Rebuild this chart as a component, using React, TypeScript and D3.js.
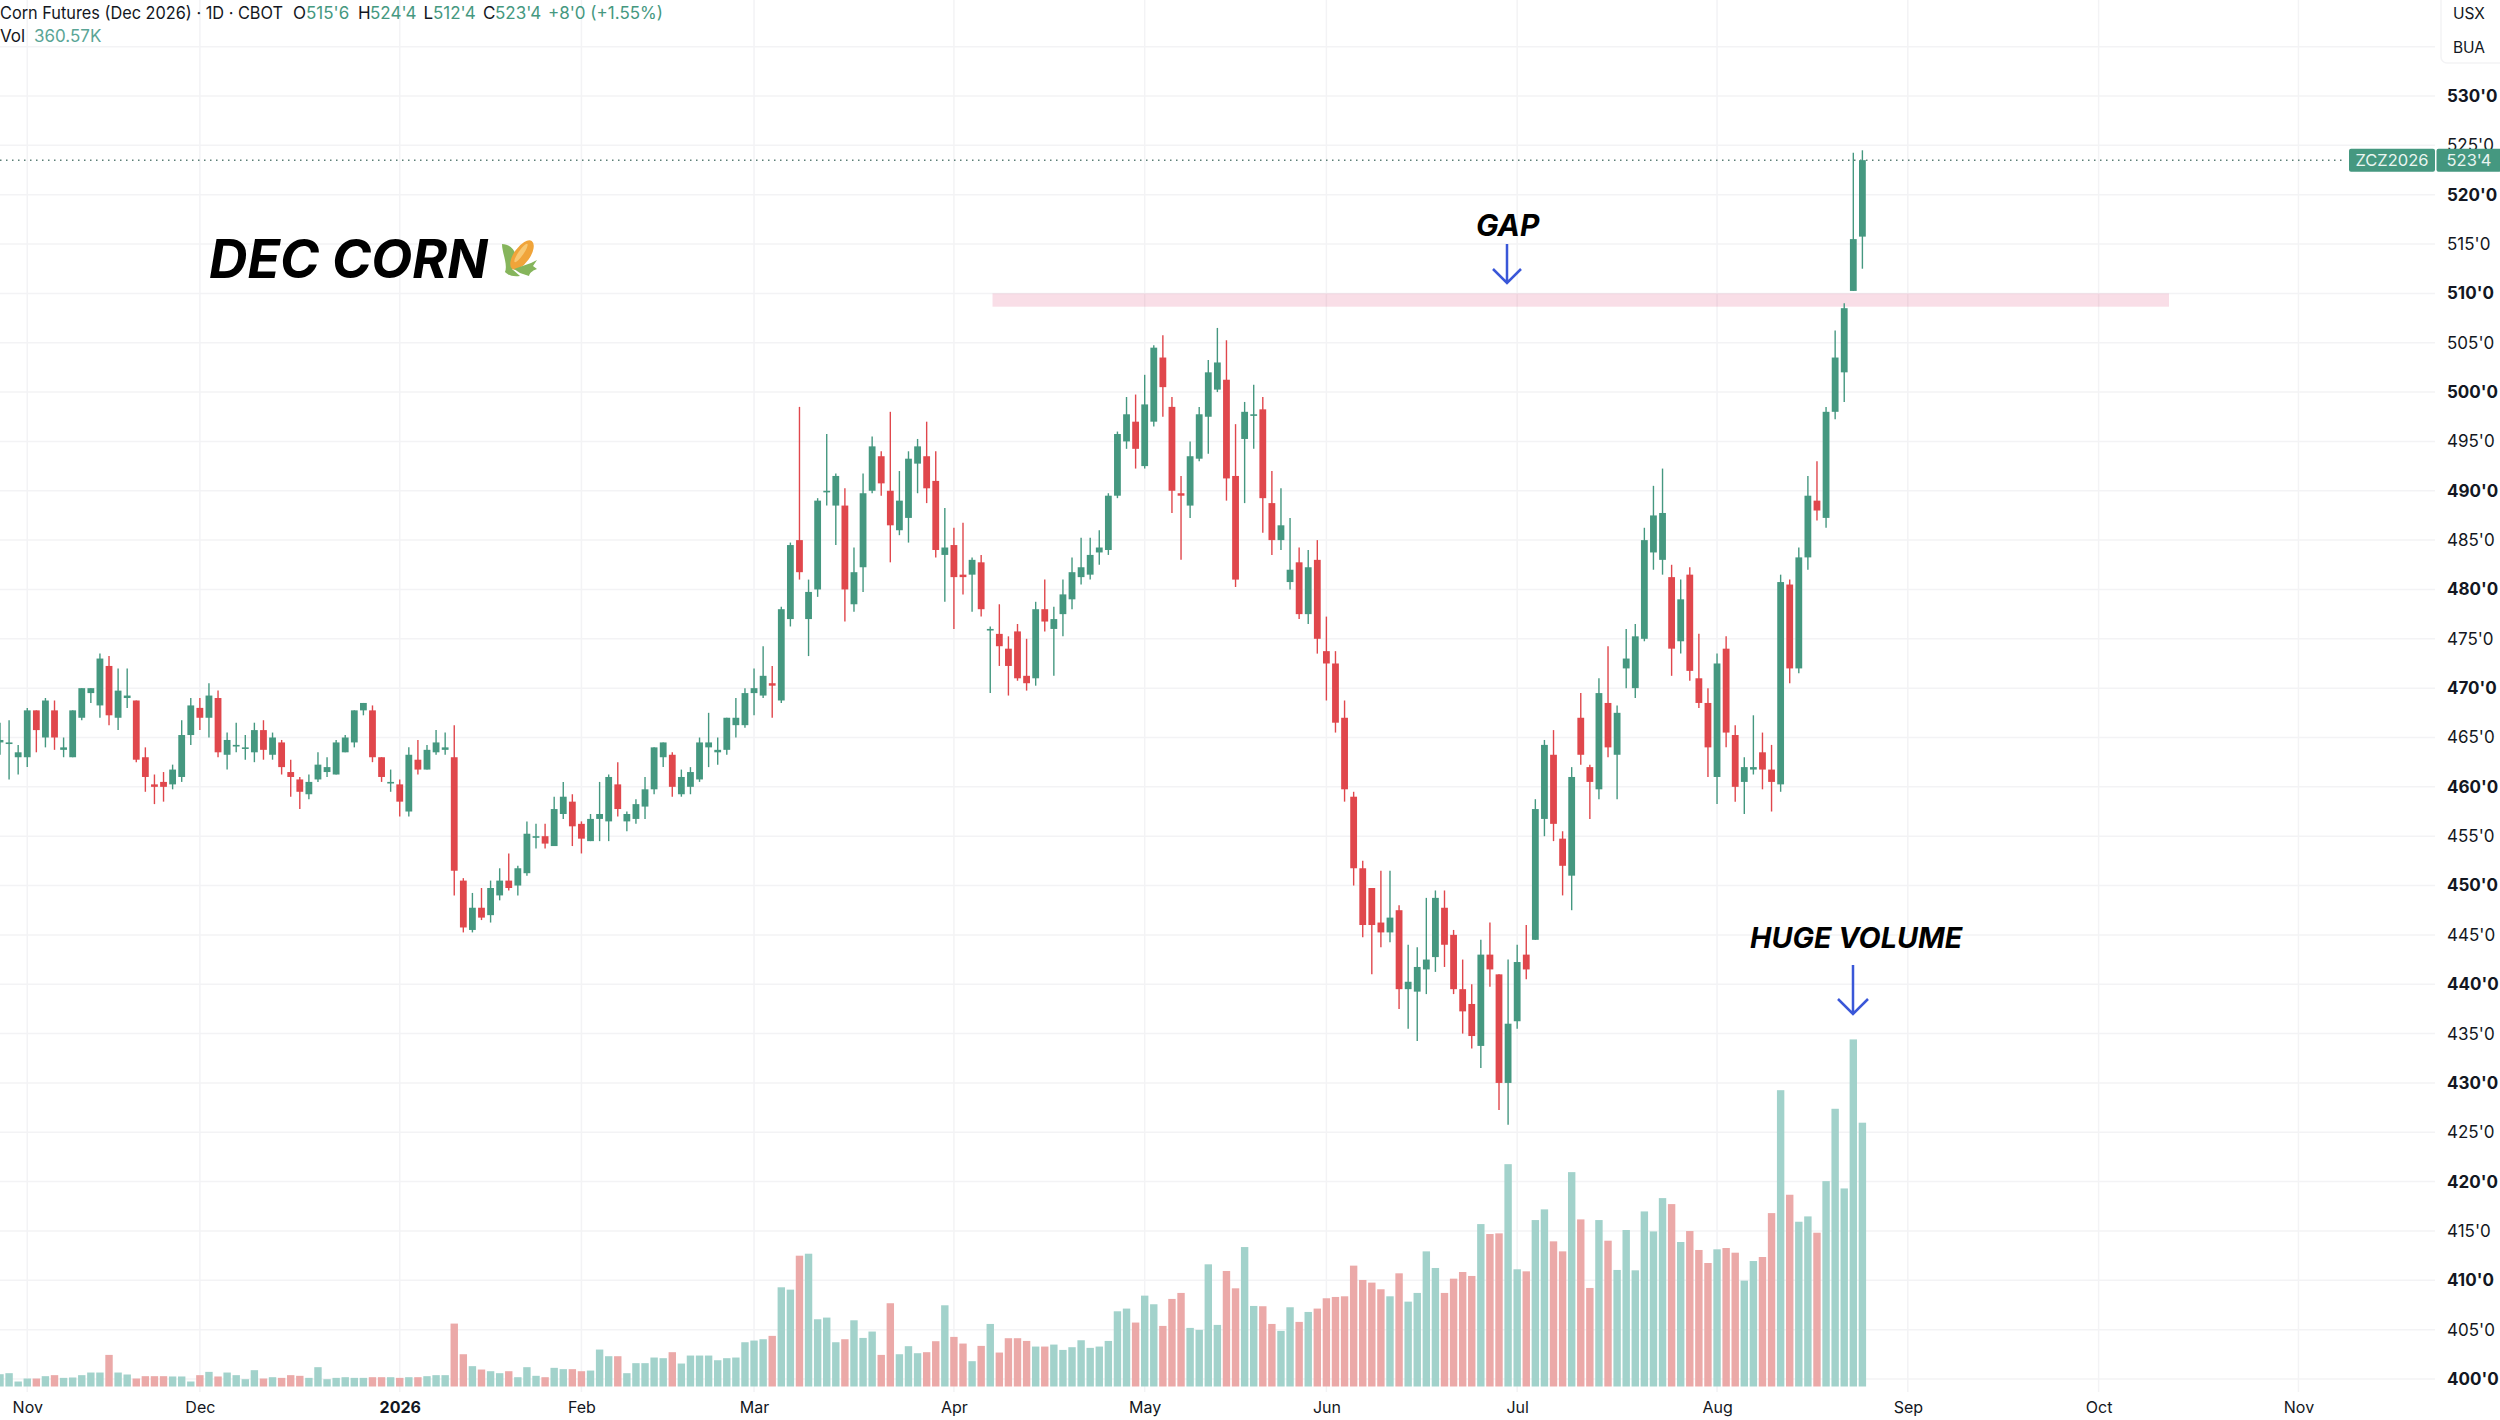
import { useEffect, useRef } from 'react'
import * as d3 from 'd3'

const opens = [
  464.5, 464.5, 463, 463, 467.75, 465, 467.75, 463.75, 463, 467,
  469.5, 468.25, 472.25, 467, 469, 468.75, 463, 460.25, 460.5, 460.25,
  461, 465.25, 468, 467, 469, 463.25, 464.25, 464, 463.5, 465.75,
  463.25, 464.5, 461.5, 460.75, 459.25, 460.75, 461.5, 461.25, 463.5, 464.5,
  467.75, 467.75, 463, 460.5, 460.25, 457.5, 462.75, 461.75, 463.5, 463.75,
  463, 450.5, 445.5, 447.75, 447, 449, 450.5, 450, 451.25, 455,
  455, 454, 457.25, 458.5, 456.25, 454.5, 456.75, 456.5, 460.25, 456.5,
  456.75, 458, 459.75, 463, 463.25, 459.25, 460, 460.75, 464, 463.5,
  463.75, 466.25, 466.25, 469.5, 469.25, 470.5, 468.75, 477, 485, 477,
  480, 490, 488.5, 488.5, 478.5, 482.25, 490, 493.5, 490, 486,
  487.25, 492.75, 493.5, 491, 483.5, 484.5, 481.5, 481.5, 482.75, 476,
  475.5, 474, 475.75, 471.25, 471, 478, 476, 477.5, 479, 481.25,
  481.5, 483.75, 484, 489.5, 495, 497, 492.5, 497, 503.5, 498.5,
  489.75, 488.5, 493.25, 497.5, 500.25, 501.25, 491.5, 495.25, 497.75, 498.25,
  488.75, 485, 480.75, 482.75, 477.5, 483, 473.75, 472.5, 467, 459,
  451.75, 449.75, 446.25, 445.25, 447.5, 439.5, 439.25, 441.5, 442.75, 447.75,
  445, 439.5, 438, 433.75, 443, 441, 430, 436.25, 443, 444.5,
  456.75, 463.25, 454.75, 451, 467, 462, 459.75, 468.5, 463.25, 472,
  470, 475, 483.75, 483, 481.25, 474.75, 481.5, 471, 468.5, 461,
  474, 465.25, 460.5, 461.75, 463.5, 461.75, 460.25, 480.5, 472, 483.25,
  489, 487.25, 498, 502, 510.25, 515.75,
]
const highs = [
  466.5, 466.75, 464.25, 468, 467.75, 469, 468.75, 465, 467.75, 470,
  470, 473.5, 473.25, 472, 472, 468.75, 464, 461.25, 461.5, 462.25,
  466.75, 469, 469, 470.5, 469.75, 465.5, 466.5, 465.25, 466.5, 466.75,
  465.5, 464.75, 462.75, 461, 461.25, 463.5, 463, 464.75, 465.25, 467.75,
  468.5, 468.25, 463, 461.75, 460.75, 464, 464.75, 464.25, 465.75, 465.5,
  466.25, 450.75, 449.25, 449.75, 450.5, 451.75, 453.25, 452, 456.5, 456.25,
  456.25, 459, 460.5, 459.25, 456.5, 457.25, 460.5, 461.25, 462.5, 457.5,
  458.75, 461, 464, 464.5, 463.5, 461.75, 462, 465, 467.5, 465,
  467, 469, 470, 472, 474.25, 472.25, 478.25, 484.75, 498.5, 481,
  489.25, 495.75, 491.75, 490.25, 484.25, 491.75, 495.5, 494, 498, 492,
  494, 495.25, 497, 494, 488.25, 486.25, 486.75, 483.25, 483.5, 476.25,
  478.5, 475.25, 476.5, 475, 478.75, 481, 478.25, 481, 483.25, 485.25,
  485.25, 486, 489.75, 496, 499.5, 499.75, 501.75, 504.75, 505.75, 499.5,
  491.5, 495, 498.5, 503.25, 506.5, 505.25, 496.75, 499, 500.75, 499.5,
  492, 490.25, 487.25, 484.25, 484, 485, 477.25, 473.75, 468.75, 459.5,
  452.5, 449.75, 451.5, 451.5, 448, 444, 443.75, 448.75, 449.5, 449.5,
  445.5, 442.5, 440, 444.5, 446.25, 441, 442.5, 444, 446, 458.75,
  464.75, 465.75, 455.5, 462, 469.5, 462.25, 471, 474.25, 468.25, 476,
  476.5, 486.25, 490.5, 492.25, 482.5, 481, 482.25, 475.5, 470, 473.5,
  475.25, 466.25, 463, 467.25, 465.5, 464.25, 481.5, 481, 484.25, 491.5,
  493, 498.5, 506.25, 509, 524.25, 524.5,
]
const lows = [
  463.25, 460.75, 461.25, 462, 463.5, 464, 463.75, 463, 463, 466.75,
  468.5, 467, 466.25, 465.75, 468, 462.5, 459.5, 458.25, 458.5, 459.75,
  460.5, 464.25, 465.75, 465, 463, 461.75, 463.5, 462.75, 462.5, 462.75,
  462.75, 461.25, 459, 457.75, 458.75, 460.5, 461, 461.25, 463.5, 464,
  467.25, 462.5, 460.5, 459.5, 457, 457, 461.25, 461.75, 463.25, 463.25,
  449, 445.25, 445.25, 446.5, 446.25, 448.5, 449.5, 449, 451, 453.75,
  453.75, 454, 456.75, 454, 453.25, 454.5, 454.5, 454.5, 457, 455.5,
  456.25, 456.75, 459.25, 462, 459, 459, 459.25, 460.5, 462, 462.25,
  463.25, 465, 466, 467.25, 469, 467, 468.5, 476.25, 481, 473.25,
  479.25, 488.5, 484.5, 476.75, 477.75, 479.75, 489.75, 489.5, 482.75, 485.5,
  484.75, 489.75, 488.75, 483.25, 478.75, 476, 479.5, 477.75, 477.25, 469.5,
  472.25, 469.25, 470.75, 469.75, 470.25, 475.75, 471.25, 475.25, 478, 480.5,
  481, 482.5, 483.5, 489.25, 494.25, 492.25, 492.25, 496.5, 497.5, 487.75,
  483, 487.25, 493, 493.75, 500, 489, 480.25, 488.75, 494.25, 485.75,
  483.5, 484, 480, 477, 476.5, 473.5, 468.75, 465.5, 458.5, 450,
  444.75, 441, 443.75, 444.25, 437.5, 435.5, 434.25, 439, 441.25, 441.75,
  439, 435, 433.5, 431.5, 439.75, 427.25, 425.75, 435.5, 440.5, 444.5,
  455, 454.5, 449, 447.5, 462.25, 456.75, 458.75, 463, 458.75, 470,
  469, 474.75, 482, 481.5, 471.25, 473.5, 470.75, 468, 461, 458.25,
  464, 458.5, 457.25, 461.25, 459.75, 457.5, 459.5, 470.5, 471.5, 482,
  487, 486.25, 497.25, 499, 510.25, 512.5,
]
const closes = [
  464.75, 464.5, 463.5, 467.75, 465.75, 468.75, 465, 464, 467.75, 470,
  470, 473, 467.25, 469.75, 469.25, 462.75, 461, 460, 460, 461.75,
  465.25, 468.25, 467, 469.25, 463.5, 464.75, 464.25, 464, 465.75, 463.75,
  465, 462, 461, 459.5, 460.5, 462.25, 462, 464.5, 465, 467.75,
  468.5, 463, 461, 460.5, 458.5, 463.25, 461.75, 463.75, 464.5, 464,
  451.5, 445.75, 447.75, 446.75, 449.75, 450.5, 449.75, 451.75, 455.25, 455,
  454.25, 457.75, 459, 456, 454.75, 456.75, 457.25, 461, 457.75, 457.25,
  458.25, 459.75, 464, 464.5, 460, 461, 461.5, 464.5, 464.5, 463.75,
  467, 467, 469.5, 470, 471.25, 470.25, 478, 484.5, 481.75, 479.75,
  489, 490, 491.5, 480, 481.75, 489.75, 494.5, 490.75, 486.5, 489,
  493.25, 494.5, 490.25, 484, 484.25, 481.25, 481.25, 483, 478, 476,
  474.25, 472.25, 471, 470.5, 478, 476.75, 477, 479.5, 481.75, 482.25,
  483.5, 484.25, 489.5, 495.75, 497.75, 494.25, 498.75, 504.5, 500.5, 490,
  489.5, 493.5, 497.75, 502, 503, 491.25, 481, 498, 497.75, 489.25,
  485, 486.5, 482, 477.5, 482.25, 475, 472.5, 466.5, 459.75, 451.75,
  446, 446, 445.25, 446.75, 439.5, 440.25, 441.75, 442.5, 448.75, 444,
  439.5, 437.25, 434.75, 443, 441.5, 430, 436, 442.25, 441.5, 457.75,
  464.25, 456.25, 452, 461, 463.25, 460.5, 469.5, 464, 467.5, 473,
  475.25, 485, 487.5, 487.75, 474, 479, 471.75, 468.5, 464, 472.5,
  465.5, 460, 462, 462, 461.75, 460.5, 480.75, 472, 483.25, 489.5,
  488, 498, 503.5, 508.5, 515.5, 523.5,
]
const volumes = [
  16.8, 18.2, 6.8, 10.9, 10.9, 14.1, 15.5, 11.8, 12.3, 15.5,
  19.1, 19.1, 43.2, 19.1, 16.4, 10.9, 14.1, 14.1, 14.1, 13.7,
  13.7, 6.8, 15.5, 20, 13.7, 19.1, 15.5, 10, 22.3, 10.9,
  12.7, 11.8, 15.5, 14.6, 11.8, 26.4, 10, 11.8, 12.7, 11.8,
  11.8, 12.7, 12.7, 12.7, 11.8, 12.7, 12.7, 14.1, 15.5, 15.5,
  86, 44.1, 27.8, 23.2, 20.9, 18.2, 20.9, 12.7, 26.4, 14.6,
  12.7, 25.5, 23.7, 23.7, 20.9, 21.8, 50.5, 41.4, 41.4, 18.2,
  31.9, 31.9, 39.6, 38.7, 46.9, 31.4, 42.3, 42.3, 42.3, 35.9,
  38.7, 39.6, 60.5, 62.8, 64.6, 69.2, 135.6, 132.4, 178.8, 181.5,
  91.9, 94.2, 60.5, 64.6, 90.5, 66.4, 75.1, 43.2, 113.8, 44.1,
  55.1, 45.5, 46.9, 61.9, 111, 67.8, 58.7, 34.6, 55.5, 85.5,
  46.4, 66, 66, 62.3, 54.6, 54.6, 57.3, 50, 53.7, 63.2,
  52.8, 54.6, 62.3, 102.8, 106.5, 87.4, 124.2, 112.4, 82.8, 119.7,
  127.9, 80.1, 77.4, 167, 84.2, 157.9, 134.2, 190.6, 110.1, 109.7,
  85.5, 76, 108.3, 88.3, 101.9, 106.5, 120.6, 122.4, 123.3, 165.2,
  145.6, 142, 132.9, 123.3, 154.7, 116, 127.9, 184.7, 162, 127.9,
  147.4, 156.5, 151.1, 222, 208.4, 209.3, 303.9, 160.2, 157.4, 227.5,
  242.1, 198.4, 184.7, 293, 228.4, 134.7, 227.5, 199.3, 159.3, 213.9,
  158.8, 239.3, 212, 257.5, 249.3, 197.5, 212.5, 186.6, 168.8, 187.5,
  189.3, 182.9, 144.7, 171.5, 177, 237, 405, 262.1, 225.2, 232.5,
  210.2, 280.7, 379.6, 270.7, 474.4, 360.57,
]

const monthLabels = ['Nov', 'Dec', '2026', 'Feb', 'Mar', 'Apr', 'May', 'Jun', 'Jul', 'Aug', 'Sep', 'Oct', 'Nov']
const monthBars = [3, 22, 44, 64, 83, 105, 126, 146, 167, 189, 210, 231, 253]
const lastPrice = 523.5
const gapBand = { top: 510, bottom: 508.65, fromBar: 109.25, toBar: 238.75 }

const UP = '#459880'
const DOWN = '#e0474c'
const UP_VOL = '#a2d2cb'
const DOWN_VOL = '#eba9a8'
const GRID = '#f3f3f5'
const INK = '#131722'
const ARROW = '#3a57d8'
const FONT = 'Inter, "Noto Sans", sans-serif'

const W = 2500
const H = 1420
const PLOT_R = 2435

export default function App() {
  const ref = useRef<SVGSVGElement | null>(null)
  useEffect(() => {
    const svg = d3.select(ref.current)
    svg.selectAll('*').remove()

    const x = d3.scaleLinear().domain([0, 205]).range([0, 1862.4])
    const y = d3.scaleLinear().domain([400, 530]).range([1379, 96])
    const v = d3.scaleLinear().domain([0, 360.57]).range([1386.5, 1122.7])
    const priceTicks = d3.range(400, 535, 5)
    const gridPrices = d3.range(400, 540, 5)

    svg.append('rect').attr('width', W).attr('height', H).attr('fill', '#fff')

    const grid = svg.append('g')
    grid.selectAll(null).data(gridPrices).enter().append('line')
      .attr('x1', 0).attr('x2', PLOT_R)
      .attr('y1', (d: number) => y(d)).attr('y2', (d: number) => y(d))
      .attr('stroke', GRID).attr('stroke-width', 1.5)
    grid.selectAll(null).data(monthBars).enter().append('line')
      .attr('x1', (d: number) => x(d)).attr('x2', (d: number) => x(d))
      .attr('y1', 0).attr('y2', 1392)
      .attr('stroke', GRID).attr('stroke-width', 1.5)

    // pink gap band
    svg.append('rect')
      .attr('x', x(gapBand.fromBar)).attr('width', x(gapBand.toBar) - x(gapBand.fromBar))
      .attr('y', y(gapBand.top)).attr('height', y(gapBand.bottom) - y(gapBand.top))
      .attr('fill', 'rgba(220,60,110,0.17)')

    // last price dotted line
    svg.append('line')
      .attr('x1', 0).attr('x2', 2346).attr('y1', y(lastPrice)).attr('y2', y(lastPrice))
      .attr('stroke', '#5b7f76').attr('stroke-width', 1.5).attr('stroke-dasharray', '1.5 4.5')

    const bars = d3.range(opens.length)

    // volume
    svg.append('g').selectAll('rect').data(bars).enter().append('rect')
      .attr('x', (i: number) => x(i) - 3.7).attr('width', 7.4)
      .attr('y', (i: number) => v(volumes[i]))
      .attr('height', (i: number) => v(0) - v(volumes[i]))
      .attr('fill', (i: number) => (closes[i] >= opens[i] ? UP_VOL : DOWN_VOL))

    // candles
    const candles = svg.append('g')
    candles.selectAll('line').data(bars).enter().append('line')
      .attr('x1', (i: number) => x(i)).attr('x2', (i: number) => x(i))
      .attr('y1', (i: number) => y(highs[i])).attr('y2', (i: number) => y(lows[i]))
      .attr('stroke', (i: number) => (closes[i] >= opens[i] ? UP : DOWN))
      .attr('stroke-width', 1.4)
    candles.selectAll('rect').data(bars).enter().append('rect')
      .attr('x', (i: number) => x(i) - 3.4).attr('width', 6.8)
      .attr('y', (i: number) => y(Math.max(opens[i], closes[i])))
      .attr('height', (i: number) => Math.max(1.6, Math.abs(y(opens[i]) - y(closes[i]))))
      .attr('fill', (i: number) => (closes[i] >= opens[i] ? UP : DOWN))

    // price axis
    const yAxis = d3.axisRight(y).tickValues(priceTicks).tickSize(0).tickPadding(0)
      .tickFormat((d: any) => `${d}'0`)
    const yG = svg.append('g').attr('transform', 'translate(2447,0)').call(yAxis as any)
    yG.select('.domain').remove()
    yG.selectAll('.tick text')
      .attr('font-family', FONT).attr('font-size', 17).attr('fill', INK)
      .attr('font-weight', (d: any) => (d % 10 === 0 ? 700 : 400))

    // time axis
    const xAxis = d3.axisBottom(x).tickValues(monthBars).tickSize(0).tickPadding(0)
      .tickFormat((_d: any, i: number) => monthLabels[i])
    const xG = svg.append('g').attr('transform', 'translate(0,1402)').call(xAxis as any)
    xG.select('.domain').remove()
    xG.selectAll('.tick text')
      .attr('font-family', FONT).attr('font-size', 16).attr('fill', INK)
      .attr('font-weight', (_d: any, i: number) => (monthLabels[i] === '2026' ? 700 : 400))

    // currency/unit box
    svg.append('rect').attr('x', 2441).attr('y', -6).attr('width', 64).attr('height', 69).attr('rx', 6)
      .attr('fill', '#fff').attr('stroke', '#f3f3f5').attr('stroke-width', 1.5)
    for (const [label, ty] of [['USX', 19], ['BUA', 53]] as [string, number][]) {
      svg.append('text').attr('x', 2469).attr('y', ty).attr('text-anchor', 'middle')
        .attr('font-family', FONT).attr('font-size', 15.5).attr('fill', INK).text(label)
    }

    // last price tag, drawn over the 525'0 label like the original
    const tagY = y(lastPrice) - 11.5
    svg.append('rect').attr('x', 2349).attr('y', tagY).attr('width', 86).attr('height', 23).attr('rx', 2).attr('fill', UP)
    svg.append('rect').attr('x', 2436.5).attr('y', tagY).attr('width', 65).attr('height', 23).attr('rx', 2).attr('fill', UP)
    svg.append('text').attr('x', 2392).attr('y', y(lastPrice) + 6).attr('text-anchor', 'middle')
      .attr('font-family', FONT).attr('font-size', 16.5).attr('fill', '#e9f5f1').text('ZCZ2026')
    svg.append('text').attr('x', 2469).attr('y', y(lastPrice) + 6).attr('text-anchor', 'middle')
      .attr('font-family', FONT).attr('font-size', 16.5).attr('fill', '#e9f5f1').text("523'4")

    // header
    const header = svg.append('g').attr('font-family', FONT).attr('font-size', 17)
    header.append('text').attr('x', 0).attr('y', 19).attr('fill', INK)
      .attr('textLength', 283).attr('lengthAdjust', 'spacingAndGlyphs')
      .text('Corn Futures (Dec 2026) · 1D · CBOT')
    const legend: [string, number, string][] = [
      ['O', 293, INK], ["515'6", 306, UP], ['H', 358, INK], ["524'4", 370, UP],
      ['L', 423.5, INK], ["512'4", 433, UP], ['C', 483, INK], ["523'4", 495, UP],
      ["+8'0 (+1.55%)", 548, UP],
    ]
    for (const [t, tx, c] of legend) header.append('text').attr('x', tx).attr('y', 19).attr('fill', c).text(t)
    header.append('text').attr('x', 0).attr('y', 42).attr('fill', INK).text('Vol')
    header.append('text').attr('x', 34).attr('y', 42).attr('fill', '#5aa596').text('360.57K')

    // annotations
    const note = (t: string, tx: number, ty: number, size: number) =>
      svg.append('text').attr('x', tx).attr('y', ty).attr('font-family', FONT).attr('font-size', size)
        .attr('font-weight', 700).attr('font-style', 'italic').attr('fill', '#000').text(t)
    note('DEC CORN', 209, 278, 53.2)
    note('GAP', 1476, 236, 30)
    note('HUGE VOLUME', 1750, 948, 28.7)

    const arrow = (ax: number, y0: number, y1: number, hw: number, hh: number) => {
      svg.append('path')
        .attr('d', `M${ax},${y0}L${ax},${y1}M${ax - hw},${y1 - hh}L${ax},${y1}L${ax + hw},${y1 - hh}`)
        .attr('fill', 'none').attr('stroke', ARROW).attr('stroke-width', 2.5)
    }
    arrow(1507, 244, 283, 14, 14)
    arrow(1853, 965, 1014, 15, 15)

    // corn emoji
    const corn = svg.append('g').attr('transform', 'translate(500,239)')
    corn.append('path').attr('fill', '#86b55c')
      .attr('d', 'M2,5 C9,5 14,10 16,16 L12,30 L20,37 C12,38 8,36 5,33 C8,25 2,14 2,5 Z')
    corn.append('ellipse').attr('cx', 22).attr('cy', 16).attr('rx', 17).attr('ry', 8)
      .attr('transform', 'rotate(-55 22 16)').attr('fill', '#f0a43a')
    corn.append('ellipse').attr('cx', 21).attr('cy', 14).attr('rx', 11).attr('ry', 2.5)
      .attr('transform', 'rotate(-55 21 14)').attr('fill', '#f7c873')
    corn.append('path').attr('fill', '#86b55c')
      .attr('d', 'M37,21 L31,24 L14,30 L20,34 L29,37 C30,33 34,31 37,30 L33,27 Z')
  }, [])
  return (
    <svg
      ref={ref}
      width={W}
      height={H}
      viewBox={`0 0 ${W} ${H}`}
      style={{ position: 'absolute', left: 0, top: 0, display: 'block' }}
    />
  )
}
